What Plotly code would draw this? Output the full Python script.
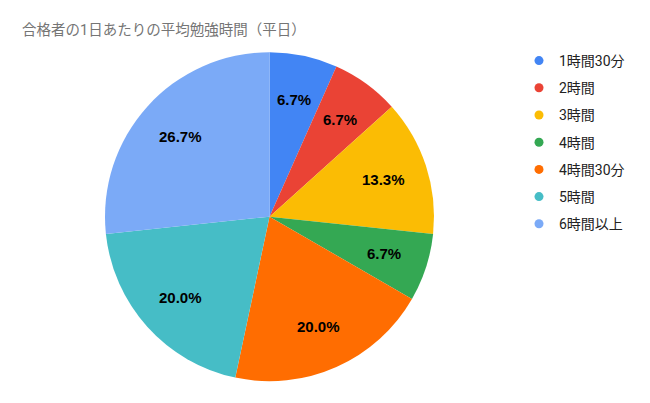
import math
import plotly.graph_objects as go

labels = ["1時間30分", "2時間", "3時間", "4時間", "4時間30分", "5時間", "6時間以上"]
counts = [1, 1, 2, 1, 3, 3, 4]
colors = ["#4285F4", "#EA4335", "#FBBC04", "#34A853", "#FF6D01", "#46BDC6", "#7BAAF7"]

W, H = 650, 403
OFF = 8  # the page body has an 8px margin, so shift everything back by that
FONT = "Roboto, Arial, 'Noto Sans CJK JP', sans-serif"
LABEL_FONT = "'Liberation Sans', Arial, sans-serif"

# pie geometry in screen pixels
cx, cy, R = 269.5, 216.7, 164.5


def px_x(sx):
    return (sx - OFF) / W


def px_y(sy):
    return 1 - (sy - OFF) / H


fig = go.Figure()

fig.add_trace(go.Pie(
    labels=labels,
    values=counts,
    sort=False,
    direction="clockwise",
    rotation=0,
    marker=dict(colors=colors, line=dict(width=0)),
    textinfo="none",
    showlegend=False,
    hoverinfo="label+percent",
    domain=dict(x=[px_x(cx - R), px_x(cx + R)], y=[px_y(cy + R), px_y(cy - R)]),
))

# percentage labels, placed like the sheets chart at ~0.73 of the radius
total = sum(counts)
cum = 0
for v in counts:
    mid = (cum + v / 2) / total * 2 * math.pi
    cum += v
    sx = cx + 0.73 * R * math.sin(mid)
    sy = cy - 0.73 * R * math.cos(mid)
    fig.add_annotation(
        x=px_x(sx), y=px_y(sy), xref="paper", yref="paper",
        xanchor="center", yanchor="middle",
        text=f"<b>{v / total * 100:.1f}%</b>", showarrow=False,
        font=dict(size=15, color="#000000", family=LABEL_FONT),
    )

# circle-marker legend entries
for i, (name, c) in enumerate(zip(labels, colors)):
    fig.add_trace(go.Scatter(
        x=[None], y=[None], mode="markers", name=name,
        marker=dict(color=c, size=9, symbol="circle"),
        legendgroup=str(i), hoverinfo="skip",
    ))

fig.update_layout(
    width=W, height=H,
    margin=dict(l=0, r=0, t=0, b=0),
    paper_bgcolor="white", plot_bgcolor="white",
    title=dict(text="合格者の1日あたりの平均勉強時間（平日）", x=px_x(22), xanchor="left",
               y=px_y(30), yanchor="middle",
               font=dict(size=14.5, color="#757575", family=FONT)),
    xaxis=dict(visible=False), yaxis=dict(visible=False),
    legend=dict(x=px_x(519), y=px_y(45), xanchor="left", yanchor="top",
                traceorder="grouped", tracegroupgap=6,
                font=dict(size=14, color="#222222", family=FONT),
                bgcolor="rgba(0,0,0,0)"),
)

fig.write_html("out.html")
